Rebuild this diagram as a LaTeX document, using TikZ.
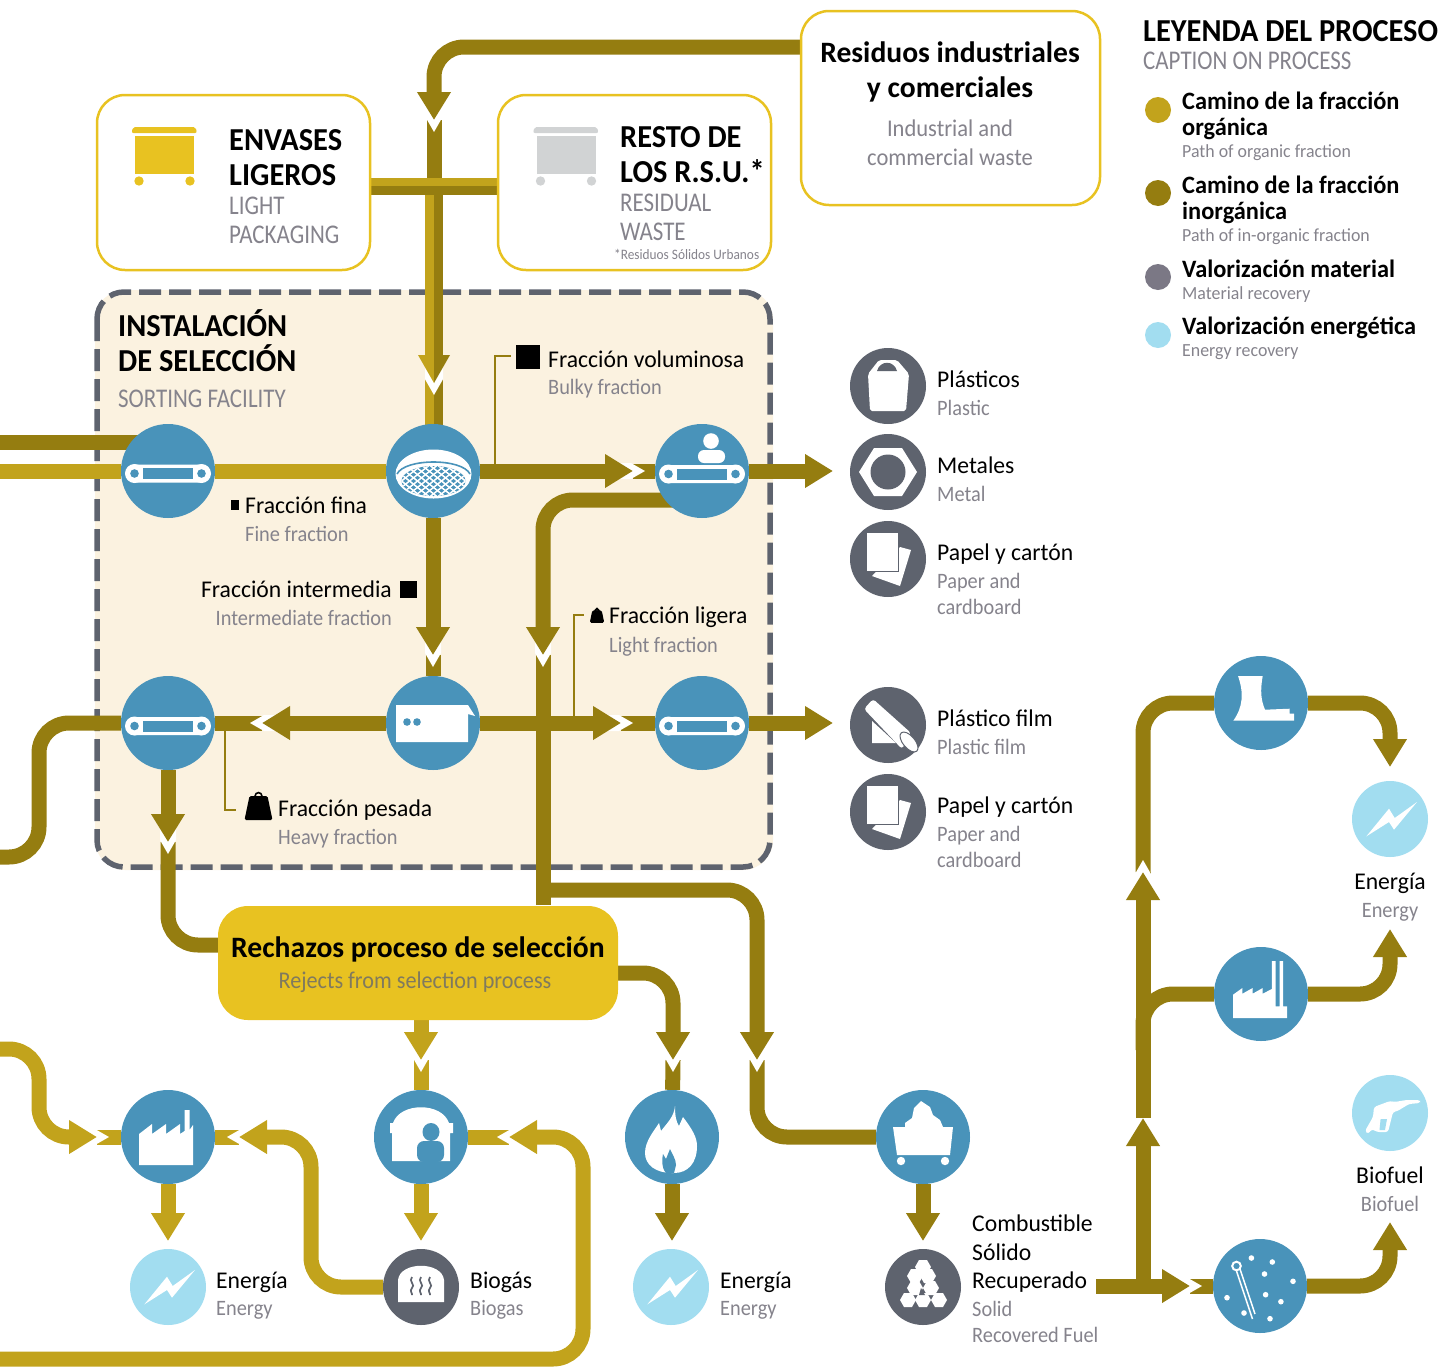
\documentclass[tikz,border=0pt]{standalone}
\usepackage{fontspec}
\setmainfont{Carlito}
\newfontfamily\fnm[FakeStretch=0.985]{Carlito}
\newfontfamily\fen[FakeStretch=0.925]{Carlito}
\newfontfamily\fttl[FakeStretch=0.95]{Carlito}
\newfontfamily\fttlen[FakeStretch=0.85]{Carlito}
\newfontfamily\fleg[FakeStretch=0.975]{Carlito}
\newfontfamily\flegen[FakeStretch=0.965]{Carlito}
\newfontfamily\fcap[FakeStretch=0.94]{Carlito}
\usetikzlibrary{arrows.meta,calc}
\definecolor{org}{HTML}{C2A31C}
\definecolor{inorg}{HTML}{957D10}
\definecolor{yel}{HTML}{E8C221}
\definecolor{procblue}{HTML}{4993BA}
\definecolor{slate}{HTML}{5E636E}
\definecolor{sky}{HTML}{A2DDF0}
\definecolor{cream}{HTML}{FBF2E0}
\definecolor{txgray}{HTML}{85838C}
\definecolor{rejgray}{HTML}{807A5E}
\definecolor{bingray}{HTML}{D1D3D4}
\definecolor{leggray}{HTML}{7B7885}
\pgfdeclarelayer{back}\pgfdeclarelayer{pipes}\pgfsetlayers{back,pipes,main}
\tikzset{
 pipe/.style={line width=15pt},
 opipe/.style={pipe,draw=org,rounded corners=30pt},
 ipipe/.style={pipe,draw=inorg,rounded corners=30pt},
 head/.style={-{Triangle[length=28pt,width=32pt]}},
 procc/.style={circle,minimum size=94pt,inner sep=0pt,fill=procblue},
 slatec/.style={circle,minimum size=76pt,inner sep=0pt,fill=slate},
 skyc/.style={circle,minimum size=76pt,inner sep=0pt,fill=sky},
 srcbox/.style={draw=yel,line width=2.5pt,rounded corners=28pt,fill=white,inner sep=0pt},
 nm/.style={anchor=base west,inner sep=0pt,font=\fnm\fontsize{24}{24}\selectfont,text=black},
 en/.style={anchor=base west,inner sep=0pt,font=\fen\fontsize{22}{22}\selectfont,text=txgray},
 ttl/.style={anchor=base west,inner sep=0pt,font=\fttl\fontsize{32}{32}\selectfont\bfseries,text=black},
 ttlen/.style={anchor=base west,inner sep=0pt,font=\fttlen\fontsize{27}{27}\selectfont,text=txgray},
 leg/.style={anchor=base west,inner sep=0pt,font=\fleg\fontsize{25}{25}\selectfont\bfseries,text=black},
 legen/.style={anchor=base west,inner sep=0pt,font=\flegen\fontsize{18.5}{18.5}\selectfont,text=txgray},
 bighead/.style={anchor=base,inner sep=0pt,font=\setmainfont{Carlito}\fontsize{29.6}{29.6}\selectfont\bfseries,text=black},
 capen/.style={anchor=base,inner sep=0pt,font=\fcap\fontsize{24}{24}\selectfont,text=txgray},
 leader/.style={draw=inorg,line width=2pt},
}
\newcommand\tx[5]{\node[#1] (#2) at (#3,#4) {#5};}
\newcommand\notch[2]{\fill[white,shift={(#1)},rotate=#2] (12,0)--(-2,8)--(-16,8)--(-16,-8)--(-2,-8)--cycle;}
\newcommand\notchw[2]{\fill[white,shift={(#1)},rotate=#2] (12,0)--(-3.75,9)--(-16,9)--(-16,-9)--(-3.75,-9)--cycle;}
\newcommand\conveyor[1]{\begin{scope}[shift={(#1)}]
 \fill[white,rounded corners=9pt] (-42.5,-9) rectangle (42.5,9);
 \fill[white] (-33.5,0) circle (9.5) (33.5,0) circle (9.5);
 \fill[procblue] (-25,-5.5) rectangle (25,5.5);
 \fill[procblue] (-33.5,0) circle (4.3) (33.5,0) circle (4.3);
\end{scope}}
\newcommand\bolt[1]{\fill[white,shift={(#1)}] (-23.6,17.3)--(-1,-10.3)--(4.7,-1)--(27,-17)--(4,10.7)--(-1,3)--cycle;}
\newcommand\papers[1]{\begin{scope}[shift={(#1)}]
 \fill[white] (12,-12)--(23,-9)--(12,27)--(-16,17)--cycle;
 \fill[slate] (-22,-27) rectangle (11,13.2);
 \fill[white] (-21,-26) rectangle (10,12);
\end{scope}}
\newcommand\weight[3]{\begin{scope}[shift={(#1,#2)},scale=#3]
 \fill[black,rounded corners=1.5pt] (-9,-10)--(9,-10)--(14,14)--(-14,14)--cycle;
 \draw[black,line width=1.6pt] (0,-10) circle (3.4);
\end{scope}}
\newcommand\hexa[2]{\fill[white,shift={(#1,#2)}] (-8,0)--(-4,-7)--(4,-7)--(8,0)--(4,7)--(-4,7)--cycle;}
\begin{document}
\begin{tikzpicture}[x=1pt,y=-1pt]
\useasboundingbox (0,0) rectangle (1445,1371);
% frame
\begin{pgfonlayer}{back}
\fill[cream,rounded corners=30pt] (95,290) rectangle (773,870);
\draw[slate,line width=5.5pt,rounded corners=27pt,dash pattern=on 22pt off 8pt] (97,292) rectangle (770,867);
\end{pgfonlayer}
% boxes
\node[srcbox,minimum width=299pt,minimum height=194pt] (resid) at (950.5,108) {};
\node[srcbox,minimum width=273pt,minimum height=175pt] (envases) at (233.5,182.5) {};
\node[srcbox,minimum width=273pt,minimum height=175pt] (resto) at (634.5,182.5) {};
\node[fill=yel,rounded corners=30pt,minimum width=400pt,minimum height=114pt,inner sep=0pt] (rej) at (418,963) {};
% process circles
\node[procc] (c1) at (168,471) {};
\node[procc] (c2) at (433,471) {};
\node[procc] (c3) at (702,471) {};
\node[procc] (c4) at (168,723) {};
\node[procc] (c5) at (433,723) {};
\node[procc] (c6) at (702,723) {};
\node[procc] (c7) at (168,1137) {};
\node[procc] (c8) at (421,1137) {};
\node[procc] (c10) at (672,1137) {};
\node[procc] (c9) at (923,1137) {};
\node[procc] (c11) at (1261,703) {};
\node[procc] (c12) at (1261,994) {};
\node[procc] (c13) at (1260,1286) {};
% outputs
\node[skyc] (en1) at (168,1287) {};
\node[slatec] (biog) at (421,1287) {};
\node[skyc] (en2) at (671,1287) {};
\node[slatec] (srf) at (923,1287) {};
\node[skyc] (en3) at (1390,819) {};
\node[skyc] (bio) at (1390,1113) {};
\node[slatec] (m1) at (888,386) {};
\node[slatec] (m2) at (888,472) {};
\node[slatec] (m3) at (888,559) {};
\node[slatec] (m4) at (888,725) {};
\node[slatec] (m5) at (888,812) {};
% free ends
\coordinate (t1) at (434,120);
\coordinate (t2) at (434,383);
\coordinate (t3) at (633,471);
\coordinate (t4) at (833,471);
\coordinate (t5) at (543,655);
\coordinate (t6) at (433,655);
\coordinate (t7) at (262,723);
\coordinate (t8) at (621,723);
\coordinate (t9) at (833,723);
\coordinate (t10) at (168,842);
\coordinate (t11) at (757,1060);
\coordinate (t12) at (673,1060);
\coordinate (t13) at (97,1137);
\coordinate (t14) at (239,1137);
\coordinate (t15) at (509,1137);
\coordinate (t16) at (421,1060);
\coordinate (t17) at (1190,1286);
\coordinate (t18) at (1143,1118);
\coordinate (t19) at (1143,872);
\begin{pgfonlayer}{pipes}
% gold / organic
\draw[opipe] (0,471) -- (c1) -- (c2);
\draw[opipe] (c7) -- (t13); \notch{t13}{0}
\draw[opipe,head] (0,1049) -- (39,1049) -- (39,1137) -- (t13);
\draw[opipe] (c7) -- (t14); \notch{t14}{180}
\draw[opipe,head] (biog) -- (311,1287) -- (311,1137) -- (t14);
\draw[opipe] (c8) -- (t15); \notch{t15}{180}
\draw[opipe,head] (0,1359) -- (583,1359) -- (583,1137) -- (t15);
\draw[opipe,head] (c8) -- (421,1241);
\draw[opipe,head] (c7) -- (168,1241);
\draw[opipe] (c8) -- (t16); \notch{t16}{-90}
\draw[opipe,head] (rej.south -| t16) -- (t16);
% dark / inorganic
\draw[ipipe] (t1) -- (434,180); \notch{t1}{-90}
\draw[ipipe,head] (resid.west |- 0,47) -- (434,47) -- (t1);
\draw[inorg,line width=9pt] (438.5,190) -- (438.5,383);
\draw[org,line width=9pt] (429.5,190) -- (429.5,383);
\draw[inorg,line width=9pt] (438.5,383) -- (438.5,425);
\draw[org,line width=9pt] (429.5,383) -- (429.5,425);
\notchw{t2}{-90}
\begin{scope}[shift={(t2)}]
\fill[org] (0,0)--(-16,-28)--(0,-28)--cycle;
\fill[inorg] (0,0)--(16,-28)--(0,-28)--cycle;
\end{scope}
\draw[org,line width=9pt] (envases.east |- 0,182) -- (resto.west |- 0,182);
\draw[inorg,line width=9pt] (envases.east |- 0,190.5) -- (resto.west |- 0,190.5);
\draw[ipipe] (0,442) -- (c1.center |- 0,442);
\draw[ipipe] (c3) -- (t3); \notch{t3}{0}
\draw[ipipe,head] (c2) -- (t3);
\draw[ipipe,head] (c3) -- (t4);
\draw[ipipe] (543,905) -- (t5); \notch{t5}{-90}
\draw[ipipe,head] (c3.center |- 0,500) -- (543,500) -- (t5);
\draw[ipipe] (c5) -- (t6); \notch{t6}{-90}
\draw[ipipe,head] (c2) -- (t6);
\draw[ipipe] (c4) -- (t7); \notch{t7}{180}
\draw[ipipe,head] (c5) -- (t7);
\draw[ipipe] (c6) -- (t8); \notch{t8}{0}
\draw[ipipe,head] (c5) -- (t8);
\draw[ipipe,head] (c6) -- (t9);
\draw[ipipe] (c4) -- (39,723) -- (39,857) -- (0,857);
\draw[ipipe] (t10) -- (168,945) -- (rej.west |- 0,945); \notch{t10}{-90}
\draw[ipipe,head] (c4) -- (t10);
\draw[ipipe] (t11) -- (757,1137) -- (c9); \notch{t11}{-90}
\draw[ipipe,head] (543,890) -- (757,890) -- (t11);
\draw[ipipe] (c10) -- (t12); \notch{t12}{-90}
\draw[ipipe,head] (rej.east |- 0,973) -- (673,973) -- (t12);
\draw[ipipe,head] (c10) -- (672,1241);
\draw[ipipe,head] (c9) -- (923,1241);
\draw[ipipe] (c13) -- (t17); \notch{t17}{0}
\draw[ipipe,head] (1096,1286) -- (t17);
\draw[ipipe] (t18) -- (t19); \notch{t18}{90}
\draw[ipipe,head] (1143,1286) -- (t18);
\draw[ipipe] (t19) -- (1143,703) -- (c11); \notch{t19}{90}
\draw[ipipe,head] (t18) -- (t19);
\draw[ipipe,head] (c11) -- (1390,703) -- (1390,767);
\draw[ipipe] (1143,1050) -- (1143,994) -- (c12);
\draw[ipipe,head] (c12) -- (1390,994) -- (1390,929);
\draw[ipipe,head] (c13) -- (1390,1286) -- (1390,1222);
% leaders
\draw[leader] (495,471) -- (495,356) -- (511,356);
\draw[leader] (574,723) -- (574,615) -- (584,615);
\draw[leader] (225,728) -- (225,810) -- (236,810);
\end{pgfonlayer}
% bins
\fill[yel,rounded corners=2pt] (131.5,133)--(133,127)--(195.5,127)--(197,133)--cycle;
\fill[yel] (135,136) rectangle (194,174);
\fill[yel] (139,181) circle (4.7) (190,181) circle (4.7);
\fill[bingray,rounded corners=2pt] (533,133)--(534.5,127)--(597,127)--(598.5,133)--cycle;
\fill[bingray] (536.5,136) rectangle (595.5,174);
\fill[bingray] (540.5,181) circle (4.7) (591.5,181) circle (4.7);
% icons
\conveyor{168,473.5}
\conveyor{702,474}
\conveyor{168,726}
\conveyor{702,726}
\fill[white] (711,441) circle (7.8);
\fill[white,rounded corners=6pt] (698,463)--(698,450)--(725,450)--(725,463)--cycle;
% screen
\fill[white] (433.5,474) ellipse (38 and 24.5);
\draw[procblue,line width=1.6pt] (397,474) .. controls (405,458) and (462,458) .. (470,474);
\begin{scope}
\clip (433.5,481) ellipse (32 and 15);
\fill[procblue] (401,465) rectangle (466,497);
\foreach \ix in {-5,...,5}{\draw[white,line width=1.5pt] (433.5+\ix*8-20,465) -- (433.5+\ix*8+20,497);
 \draw[white,line width=1.5pt] (433.5+\ix*8+20,465) -- (433.5+\ix*8-20,497);}
\end{scope}
% shredder
\fill[white] (396,705)--(468,705)--(475,716)--(468,714)--(468,742)--(396,742)--cycle;
\fill[procblue] (407,722) circle (3.8) (417,722) circle (3.8);
% factory
\fill[white] (139,1165)--(139,1134)--(152,1124)--(152,1134)--(166,1124)--(166,1134)--(180,1124)--(180,1134)--(184.5,1131)--(184.5,1110)--(189.5,1110)--(189.5,1130)--(193,1125)--(193,1165)--cycle;
% digester
\fill[white] (392,1161)--(392,1133)--(390,1133)--(390,1123)--(393,1123).. controls (400,1102) and (442,1102) .. (449,1123)--(453,1123)--(453,1133)--(450,1133)--(450,1161)--cycle;
\fill[procblue] (431,1132) ellipse (8.5 and 9);
\fill[procblue,rounded corners=7pt] (417,1162)--(417,1141)--(444,1141)--(444,1162)--cycle;
% flame
\begin{scope}[shift={(c10)}]
\fill[white] (0,36) .. controls (-16,36) and (-27,28) .. (-27,16) .. controls (-27,4) and (-18,-6) .. (-13,-14) -- (-11,-6) .. controls (-5,-14) and (2,-20) .. (3,-31) .. controls (3,-22) and (4,-15) .. (7,-11) -- (11,-20) .. controls (20,-8) and (25,0) .. (25,9) .. controls (25,26) and (16,36) .. (2,36) -- cycle;
\fill[procblue] (-6,36) .. controls (-11,30) and (-10,22) .. (-9,17) -- (-6,22) -- (-2,12) .. controls (0,17) and (4,22) .. (4,28) -- (2,36) -- cycle;
\end{scope}
% cart
\begin{scope}[shift={(c9)}]
\fill[white] (-30,-10)--(30,-10)--(27,18)--(-26,18)--cycle;
\fill[white] (-18,-10)--(-18,-14)--(-11,-19)--(-9,-29)--(-2,-36)--(7,-30)--(10,-22)--(17,-17)--(20,-10)--cycle;
\fill[white] (-22,24) circle (4.2) (22,24) circle (4.2);
\end{scope}
% srf pile
\hexa{908}{1300}\hexa{923}{1300}\hexa{939}{1300}
\hexa{915}{1288}\hexa{931}{1288}
\hexa{915}{1276}\hexa{928}{1276}
\hexa{923}{1267}
\fill[slate] (921,1288)--(925,1295)--(919,1295)--cycle;
% biogas
\fill[white] (398,1302)--(398,1280).. controls (400,1261) and (442,1261) .. (444,1280)--(444,1302)--cycle;
\foreach \sx in {412,421,430}{\draw[slate,line width=1.7pt] (\sx,1277) .. controls (\sx-4,1281) and (\sx+4,1285) .. (\sx,1288) .. controls (\sx-3,1291) and (\sx+1,1294) .. (\sx,1295);}
% bolts
\bolt{en1}\bolt{en2}\bolt{en3}
% material icons
\begin{scope}[shift={(m1)}]
\fill[white,rounded corners=2pt] (-20,-12)--(-18,25)--(18,25)--(21,-12)--(9,-26)--(-9,-26)--cycle;
\fill[slate] (-11,-15) .. controls (-8,-26) and (6,-26) .. (9,-15) -- cycle;
\end{scope}
\begin{scope}[shift={(m2)}]
\fill[white] (-29,0)--(-14,-24)--(14,-24)--(29,0)--(14,24)--(-14,24)--cycle;
\fill[slate] (0,0) circle (17.5);
\end{scope}
\papers{m3}\papers{m5}
\begin{scope}[shift={(m4)}]
\fill[white] (-16,-4)--(-16,18)--(8,18)--cycle;
\fill[white,rounded corners=3pt] (-24,-16)--(-15,-26)--(23,8)--(14,24)--cycle;
\draw[slate,line width=1pt,fill=white,rotate around={-50:(21,17)}] (21,17) ellipse (12 and 6);
\end{scope}
% power plant
\begin{scope}[shift={(c11)}]
\fill[white] (-23,-27)--(1.7,-27) .. controls (-1,-12) and (0,-3) .. (4,6.7) -- (28.7,5.7)--(28.7,10.7)--(33,10.7)--(33,17.7)--(-27.7,17.7) .. controls (-18,4) and (-17,-10) .. (-23,-27) -- cycle;
\end{scope}
\begin{scope}[shift={(c12)}]
\fill[white] (-28,24)--(-28,0.7)--(-18.6,-6)--(-18.6,-0.3)--(-8.4,-6)--(-8.4,-0.3)--(1.7,-6)--(1.7,-0.3)--(10.8,-5)--(10.8,-33)--(14.5,-33)--(14.5,12.3)--(18.6,12.3)--(18.6,-33)--(22,-33)--(22,12.3)--(26,12.3)--(26,24)--cycle;
\end{scope}
% pipette
\begin{scope}[shift={(c13)}]
\draw[white,line width=1.5pt] (-23.5,-15) -- (-7.5,33) (-20,-17) -- (-5,28);
\draw[white,line width=2pt] (-23.5,-20) circle (4.3);
\foreach \dx/\dy in {-8.6/-28,12.3/-24,4.5/-12,33/-4.7,5.6/8.7,20.9/15.7,-33/11.7,-16/27,10/32.7}{\fill[white] (\dx,\dy) circle (2.8);}
\end{scope}
% pump
\begin{scope}[shift={(bio)}]
\fill[white,rounded corners=2.5pt] (30,-13)--(30,-10)--(19,-9)--(7.5,-2)--(3,-1)--(-2,19)--(-13,19)--(-18,16)--(-22,21)--(-25,18)--(-17,4)--(-16,-6)--(0,-12)--(4.5,-11)--(16.4,-13)--cycle;
\fill[sky] (-9.4,6)--(-3,6)--(-5,17)--(-10.5,17)--cycle;
\end{scope}
% markers
\fill[black] (516,345) rectangle (540,369);
\fill[black] (231,500) rectangle (239,510);
\fill[black] (400,581) rectangle (417,598);
\weight{258.5}{806}{1}
\weight{597}{615.5}{0.52}
% legend dots
\node[circle,fill=org,minimum size=26pt,inner sep=0pt] (d1) at (1158,110) {};
\node[circle,fill=inorg,minimum size=26pt,inner sep=0pt] (d2) at (1158,193) {};
\node[circle,fill=leggray,minimum size=26pt,inner sep=0pt] (d3) at (1158,277) {};
\node[circle,fill=sky,minimum size=26pt,inner sep=0pt] (d4) at (1158,335) {};
% texts
\node[bighead] (a1) at (950,62) {Residuos industriales};
\node[bighead] (a2) at (950,97) {y comerciales};
\node[capen] (a3) at (950,136) {Industrial and};
\node[capen] (a4) at (950,165) {commercial waste};
\tx{ttl}{b1}{1143}{41}{LEYENDA DEL PROCESO}
\tx{ttlen}{b2}{1143}{69}{CAPTION ON PROCESS}
\tx{leg}{b3}{1182}{109}{Camino de la fracción}
\tx{leg}{b4}{1182}{135.5}{orgánica}
\tx{legen}{b5}{1182}{157}{Path of organic fraction}
\tx{leg}{b6}{1182}{193}{Camino de la fracción}
\tx{leg}{b7}{1182}{219.5}{inorgánica}
\tx{legen}{b8}{1182}{241}{Path of in-organic fraction}
\tx{leg}{b9}{1182}{277}{Valorización material}
\tx{legen}{b10}{1182}{299}{Material recovery}
\tx{leg}{b11}{1182}{334.5}{Valorización energética}
\tx{legen}{b12}{1182}{356}{Energy recovery}
\tx{ttl}{e1}{229}{150}{ENVASES}
\tx{ttl}{e2}{229}{185}{LIGEROS}
\tx{ttlen}{e3}{229}{214}{LIGHT}
\tx{ttlen}{e4}{229}{243}{PACKAGING}
\tx{ttl}{r1}{620}{147}{RESTO DE}
\tx{ttl}{r2}{620}{182}{LOS R.S.U.*}
\tx{ttlen}{r3}{620}{211}{RESIDUAL}
\tx{ttlen}{r4}{620}{240}{WASTE}
\node[en,font=\fen\fontsize{14.4}{14.4}\selectfont] (r5) at (614,259) {*Residuos Sólidos Urbanos};
\tx{ttl}{s1}{118}{336}{INSTALACIÓN}
\tx{ttl}{s2}{118}{371}{DE SELECCIÓN}
\tx{ttlen}{s3}{118}{407}{SORTING FACILITY}
\tx{nm}{f1}{548}{367}{Fracción voluminosa}
\tx{en}{f2}{548}{394}{Bulky fraction}
\tx{nm}{f3}{245}{513}{Fracción fina}
\tx{en}{f4}{245}{541}{Fine fraction}
\node[nm,anchor=base east] (f5) at (392,597) {Fracción intermedia};
\node[en,anchor=base east] (f6) at (392,625) {Intermediate fraction};
\tx{nm}{f7}{609}{623}{Fracción ligera}
\tx{en}{f8}{609}{652}{Light fraction}
\tx{nm}{f9}{278}{816}{Fracción pesada}
\tx{en}{f10}{278}{844}{Heavy fraction}
\node[bighead] (g1) at (418,957) {Rechazos proceso de selección};
\node[capen,font=\fen\fontsize{24}{24}\selectfont,text=rejgray] (g2) at (415,988) {Rejects from selection process};
\tx{nm}{m1a}{937}{387}{Plásticos}
\tx{en}{m1b}{937}{415}{Plastic}
\tx{nm}{m2a}{937}{473}{Metales}
\tx{en}{m2b}{937}{501}{Metal}
\tx{nm}{m3a}{937}{560}{Papel y cartón}
\tx{en}{m3b}{937}{588}{Paper and}
\tx{en}{m3c}{937}{614}{cardboard}
\tx{nm}{m4a}{937}{726}{Plástico film}
\tx{en}{m4b}{937}{754}{Plastic film}
\tx{nm}{m5a}{937}{813}{Papel y cartón}
\tx{en}{m5b}{937}{841}{Paper and}
\tx{en}{m5c}{937}{867}{cardboard}
\tx{nm}{h1}{216}{1288}{Energía}
\tx{en}{h2}{216}{1315}{Energy}
\tx{nm}{h3}{470}{1288}{Biogás}
\tx{en}{h4}{470}{1315}{Biogas}
\tx{nm}{h5}{720}{1288}{Energía}
\tx{en}{h6}{720}{1315}{Energy}
\tx{nm}{h7}{972}{1231}{Combustible}
\tx{nm}{h8}{972}{1260}{Sólido}
\tx{nm}{h9}{972}{1288}{Recuperado}
\tx{en}{h10}{972}{1316}{Solid}
\tx{en}{h11}{972}{1342}{Recovered Fuel}
\node[nm,anchor=base] (k1) at (1390,889) {Energía};
\node[en,anchor=base] (k2) at (1390,917) {Energy};
\node[nm,anchor=base] (k3) at (1390,1183) {Biofuel};
\node[en,anchor=base] (k4) at (1390,1211) {Biofuel};
\end{tikzpicture}
\end{document}
